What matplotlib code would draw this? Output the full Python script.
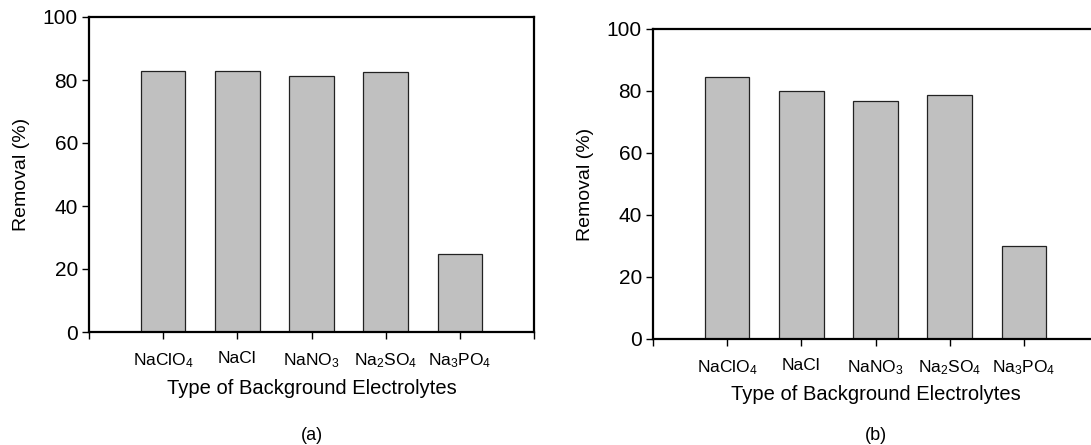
import matplotlib
matplotlib.use("Agg")
import matplotlib.pyplot as plt

plt.rcParams['font.family'] = ['Liberation Sans', 'DejaVu Sans']
plt.rcParams['mathtext.fontset'] = 'custom'
plt.rcParams['mathtext.rm'] = 'Liberation Sans'
plt.rcParams['mathtext.it'] = 'Liberation Sans:italic'

electrolytes = [r'NaClO$_4$', 'NaCl', r'NaNO$_3$', r'Na$_2$SO$_4$', r'Na$_3$PO$_4$']
removal_a = [83.0, 82.7, 81.2, 82.5, 24.7]
removal_b = [84.6, 80.1, 76.9, 78.6, 30.0]
yticks = [0, 20, 40, 60, 80, 100]
captions = ['(a)', '(b)']

W, H = 1091, 445
fig = plt.figure(figsize=(W / 100, H / 100), dpi=100)

# axes boxes in pixels: left, top(y=100), bottom(y=0), right
boxes = [(89, 17, 332, 534), (653, 29, 339, 1098)]


def draw(ax, values, right_spine=True):
    pos = list(range(1, len(values) + 1))
    ax.bar(pos, values, width=0.6, color='#c0c0c0', edgecolor='#222222',
           linewidth=0.9, zorder=2)
    ax.set_xlim(0, 6)
    ax.set_ylim(0, 100)
    ax.set_yticks(yticks)
    ax.tick_params(axis='y', direction='out', length=5, width=1.0,
                   labelsize=15, pad=3)
    ax.set_xticks(range(0, 7))
    ax.set_xticklabels([''] + electrolytes + [''])
    ax.tick_params(axis='x', direction='out', length=5, width=1.0,
                   labelsize=12.5, pad=9)
    for s in ax.spines.values():
        s.set_linewidth(1.6)
    ax.spines['right'].set_visible(right_spine)
    ax.set_ylabel('Removal (%)', fontsize=14)
    ax.yaxis.set_label_coords(-0.132, 0.5)
    ax.set_xlabel('Type of Background Electrolytes', fontsize=14.5)
    ax.xaxis.set_label_coords(0.5, -0.15)


for (l, t, b, r), vals, cap in zip(boxes, [removal_a, removal_b], captions):
    ax = fig.add_axes([l / W, (H - b) / H, (r - l) / W, (b - t) / H])
    draw(ax, vals, right_spine=(cap == '(a)'))
    fig.text((l + r) / 2 / W, 1 - 436 / H, cap, ha='center', va='center',
             fontsize=13)

fig.savefig('out.png', dpi=100)
